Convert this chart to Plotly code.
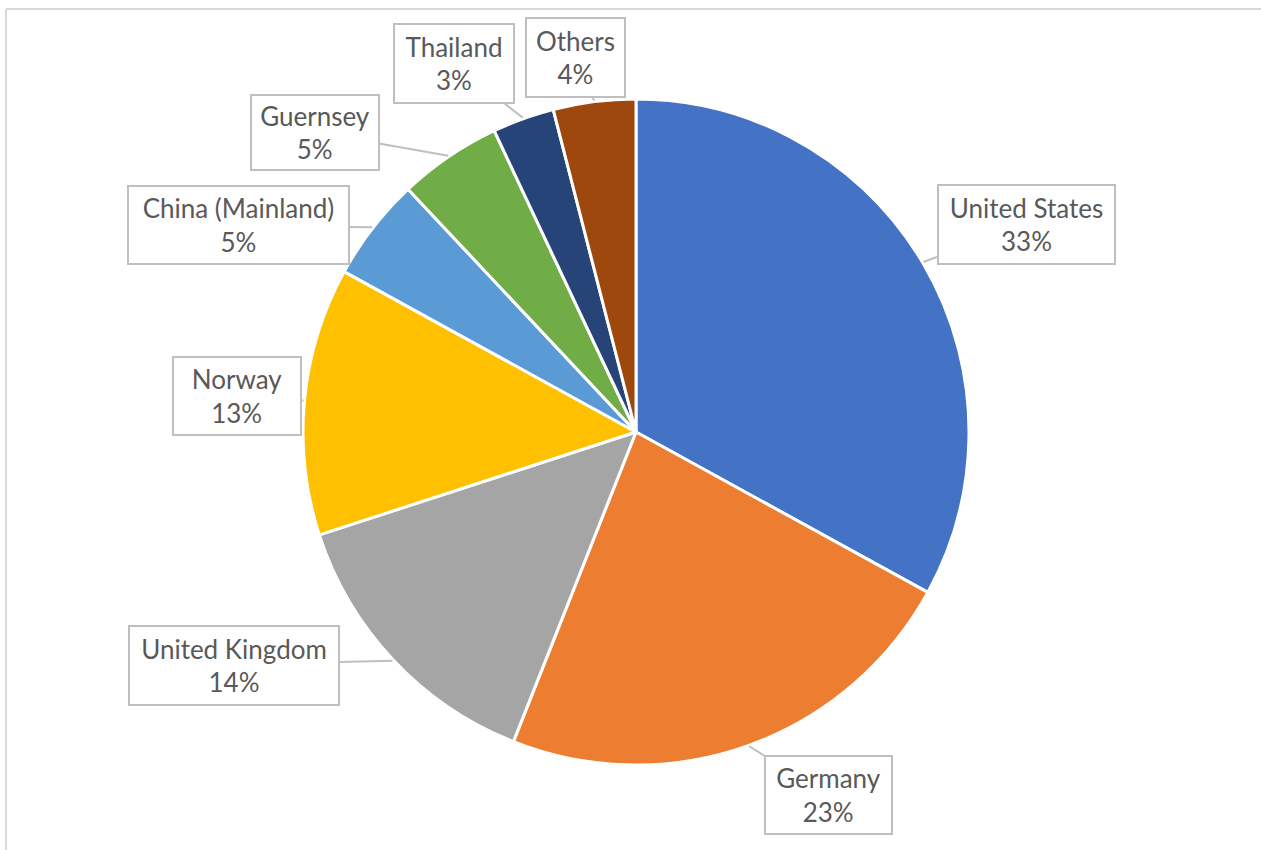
import math
import plotly.graph_objects as go

# Share of total by country
countries = ["United States", "Germany", "United Kingdom", "Norway",
             "China (Mainland)", "Guernsey", "Thailand", "Others"]
shares = [33, 23, 14, 13, 5, 5, 3, 4]

slice_colors = ["#4472C4", "#ED7D31", "#A5A5A5", "#FFC000",
                "#5B9BD5", "#70AD47", "#264478", "#9E480E"]

# Callout box centres (pixels from top-left) and box sizes
box_centers = [(1026, 224), (828, 795), (234, 665), (237, 396),
               (238, 225), (315, 132), (454, 64), (575, 57)]
box_sizes = [(179, 81), (129, 80), (212, 81), (130, 80),
             (223, 80), (130, 77), (122, 81), (101, 81)]

W, H = 1261, 850
CX, CY, R = 636, 432, 333  # pie centre and radius in pixels


def px_to_paper(x, y):
    return x / W, 1 - y / H


fig = go.Figure()
fig.add_trace(go.Pie(
    labels=countries,
    values=shares,
    sort=False,
    direction="clockwise",
    rotation=0,
    marker=dict(colors=slice_colors, line=dict(color="white", width=3)),
    textinfo="none",
    hoverinfo="label+percent",
    showlegend=False,
    domain=dict(x=[(CX - R) / W, (CX + R) / W],
                y=[1 - (CY + R) / H, 1 - (CY - R) / H]),
))

# Callout labels with leader lines pointing at each slice's outer edge
total = sum(shares)
cum = 0
annotations = []
for name, val, (bx, by), (bw, bh) in zip(countries, shares, box_centers, box_sizes):
    mid = (cum + val / 2) / total * 2 * math.pi
    cum += val
    tx = CX + (R + 1) * math.sin(mid)
    ty = CY - (R + 1) * math.cos(mid)
    px, py = px_to_paper(tx, ty)
    pct = round(val / total * 100)
    annotations.append(dict(
        x=px, y=py, xref="paper", yref="paper",
        ax=bx - tx, ay=by - ty, axref="pixel", ayref="pixel",
        text=f"{name}<br>{pct}%",
        showarrow=True, arrowhead=0, arrowwidth=2, arrowcolor="#BFBFBF",
        standoff=0, startstandoff=0,
        bgcolor="white", bordercolor="#BFBFBF", borderwidth=2, borderpad=0,
        width=bw - 4, height=bh - 4, align="center", valign="middle",
        font=dict(family="Lato", size=26, color="#595959"),
    ))

# Chart-area frame along the top and left edges
x0, y0 = px_to_paper(6, 9)
shapes = [
    dict(type="line", xref="paper", yref="paper", x0=x0, y0=y0, x1=1, y1=y0,
         line=dict(color="#D9D9D9", width=2)),
    dict(type="line", xref="paper", yref="paper", x0=x0, y0=y0, x1=x0, y1=0,
         line=dict(color="#D9D9D9", width=2)),
]

fig.update_layout(
    width=W, height=H,
    margin=dict(l=0, r=0, t=0, b=0),
    paper_bgcolor="white",
    plot_bgcolor="white",
    annotations=annotations,
    shapes=shapes,
)

fig.write_html("out.html")
